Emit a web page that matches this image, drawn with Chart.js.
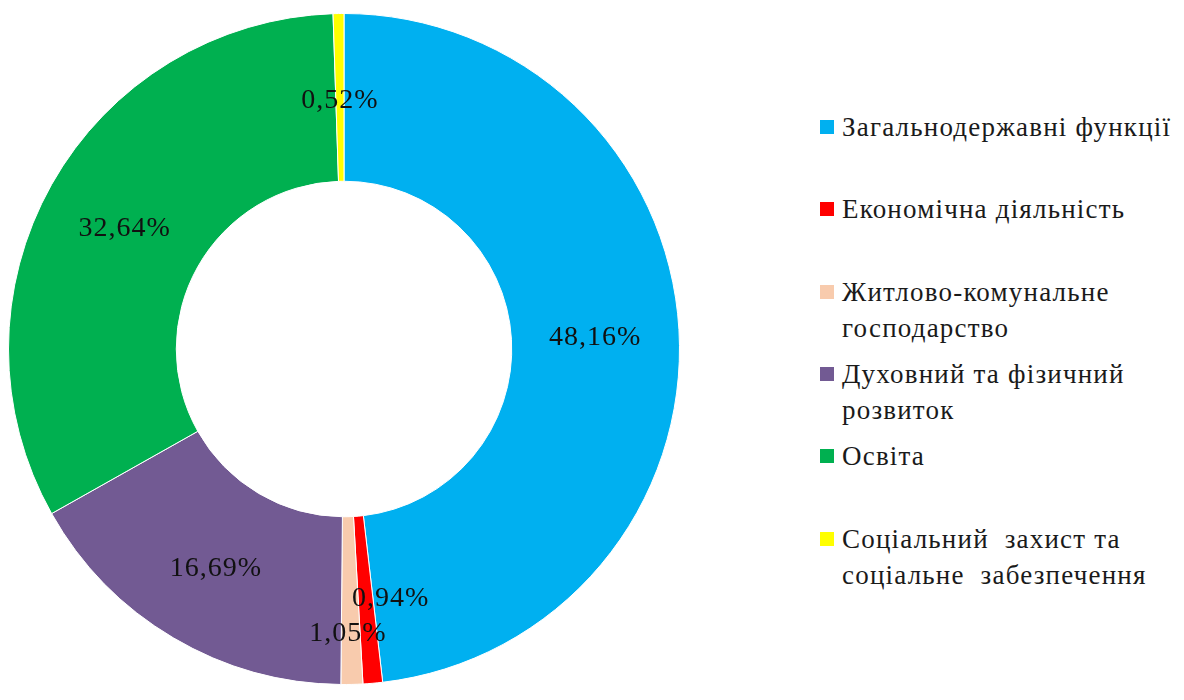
<!DOCTYPE html>
<html lang="uk">
<head>
<meta charset="utf-8">
<title>Структура видатків</title>
<script src="https://cdn.jsdelivr.net/npm/chart.js@4.4.1/dist/chart.umd.min.js"></script>
<style>
  html, body { margin: 0; padding: 0; background: #fff; }
  body { width: 1184px; height: 700px; position: relative; overflow: hidden;
         font-family: "Liberation Serif", "Times New Roman", serif; }
  #wrap { position: absolute; left: 0; top: 0; width: 688px; height: 700px; }
  #legend { position: absolute; left: 0; top: 0; }
  .legend-item { position: absolute; left: 820px; display: flex; align-items: flex-start;
                 font-size: 27px; line-height: 36px; letter-spacing: 1.2px;
                 color: #1a1a1a; white-space: pre; }
  .legend-box { width: 14px; height: 14px; margin: 11px 8px 0 0; flex: none; }
</style>
</head>
<body>
<div id="wrap"><canvas id="donut" width="688" height="700"></canvas></div>
<div id="legend"></div>
<script>
'use strict';

// ── Data ──────────────────────────────────────────────────────────────────────

const categories = [
  ['Загальнодержавні функції'],
  ['Економічна діяльність'],
  ['Житлово-комунальне', 'господарство'],
  ['Духовний та фізичний', 'розвиток'],
  ['Освіта'],
  ['Соціальний  захист та', 'соціальне  забезпечення'],
];
const shares = [48.16, 0.94, 1.05, 16.69, 32.64, 0.52];
const colors = ['#00B0F0', '#FF0000', '#F8CBAD', '#725A93', '#00B050', '#FFFF00'];

// small nudges for the crowded labels at the bottom of the ring
const labelNudge = [[0, 0], [25, -4], [-2, 30], [0, 0], [0, 0], [0, 0]];

// ── Labels plugin ─────────────────────────────────────────────────────────────

const sliceLabels = {
  id: 'sliceLabels',
  afterDatasetsDraw(chart) {
    const { ctx } = chart;
    const meta = chart.getDatasetMeta(0);
    ctx.save();
    ctx.font = '28px "Liberation Serif", "Times New Roman", serif';
    ctx.letterSpacing = '1px';
    ctx.fillStyle = '#111';
    ctx.textAlign = 'center';
    ctx.textBaseline = 'middle';
    meta.data.forEach((arc, i) => {
      const p = arc.tooltipPosition();
      const [dx, dy] = labelNudge[i];
      const txt = shares[i].toFixed(2).replace('.', ',') + '%';
      ctx.fillText(txt, p.x + dx, p.y + 3 + dy);
    });
    ctx.restore();
  },
};

new Chart(document.getElementById('donut'), {
  type: 'doughnut',
  data: {
    labels: categories.map(c => c.join(' ')),
    datasets: [{
      data: shares,
      backgroundColor: colors,
      borderColor: '#ffffff',
      borderWidth: 1,
    }],
  },
  options: {
    responsive: false,
    animation: false,
    cutout: '50%',
    layout: { padding: { left: 8, right: 8, top: 13, bottom: 15 } },
    plugins: {
      legend: { display: false },
      tooltip: { enabled: false },
    },
  },
  plugins: [sliceLabels],
});

// ── Legend ────────────────────────────────────────────────────────────────────

const legendEl = document.getElementById('legend');
categories.forEach((lines, i) => {
  const item = document.createElement('div');
  item.className = 'legend-item';
  item.style.top = `${109 + i * 82.3}px`;
  item.innerHTML = `<div class="legend-box" style="background:${colors[i]}"></div>` +
    `<div>${lines.join('<br>')}</div>`;
  legendEl.appendChild(item);
});
</script>
</body>
</html>
